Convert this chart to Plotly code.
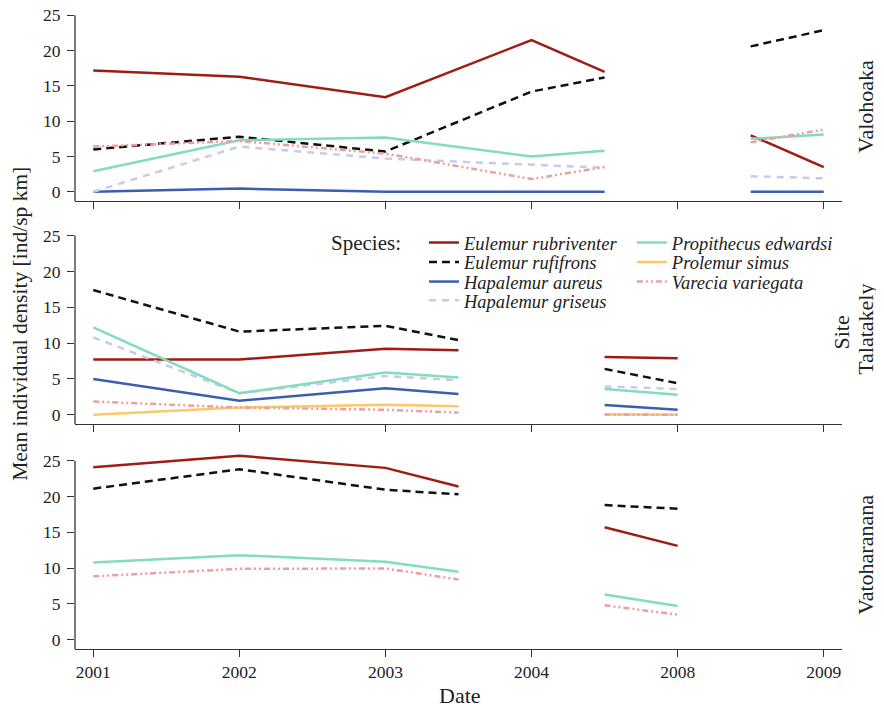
import plotly.graph_objects as go

# ---------------- data ----------------
TICK_POS = [0, 1, 2, 3, 4, 5]
TICK_LABELS = ["2001", "2002", "2003", "2004", "2008", "2009"]

SITES = ["Valohoaka", "Talatakely", "Vatoharanana"]

X_VALO = [0, 1, 2, 3, 3.5, None, 4.5, 5]
X_TALA = [0, 1, 2, 2.5, None, 3.5, 4]
X_VATO = [0, 1, 2, 2.5, None, 3.5, 4]

SPECIES = ["Eulemur rubriventer", "Eulemur rufifrons", "Hapalemur aureus",
           "Hapalemur griseus", "Propithecus edwardsi", "Prolemur simus",
           "Varecia variegata"]

# Valohoaka
valo_rubriventer = [17.2, 16.3, 13.4, 21.5, 17.0, None, 8.0, 3.5]
valo_rufifrons = [6.0, 7.8, 5.7, 14.2, 16.2, None, 20.6, 22.9]
valo_aureus = [0.0, 0.45, 0.0, 0.0, 0.0, None, 0.0, 0.0]
valo_griseus = [0.0, 6.4, 4.7, 3.9, 3.4, None, 2.2, 1.9]
valo_edwardsi = [2.9, 7.3, 7.7, 5.0, 5.8, None, 7.5, 8.1]
valo_variegata = [6.4, 7.2, 5.4, 1.8, 3.5, None, 7.0, 8.8]

# Talatakely
tala_rubriventer = [7.7, 7.7, 9.2, 9.0, None, 8.05, 7.9]
tala_rufifrons = [17.4, 11.6, 12.4, 10.4, None, 6.4, 4.4]
tala_aureus = [5.0, 1.95, 3.7, 2.9, None, 1.35, 0.7]
tala_griseus = [10.8, 3.0, 5.4, 4.8, None, 3.95, 3.6]
tala_edwardsi = [12.2, 3.0, 5.9, 5.2, None, 3.6, 2.8]
tala_simus = [0.0, 1.0, 1.4, 1.2, None, 0.05, 0.0]
tala_variegata = [1.85, 1.0, 0.7, 0.3, None, 0.05, 0.0]

# Vatoharanana
vato_rubriventer = [24.1, 25.7, 24.0, 21.4, None, 15.7, 13.1]
vato_rufifrons = [21.1, 23.8, 20.95, 20.3, None, 18.8, 18.3]
vato_edwardsi = [10.8, 11.8, 10.9, 9.5, None, 6.3, 4.7]
vato_variegata = [8.85, 9.9, 9.95, 8.4, None, 4.8, 3.5]

DATA = {
    "Valohoaka": (X_VALO, {
        "Eulemur rubriventer": valo_rubriventer,
        "Eulemur rufifrons": valo_rufifrons,
        "Hapalemur aureus": valo_aureus,
        "Hapalemur griseus": valo_griseus,
        "Propithecus edwardsi": valo_edwardsi,
        "Varecia variegata": valo_variegata,
    }),
    "Talatakely": (X_TALA, {
        "Eulemur rubriventer": tala_rubriventer,
        "Eulemur rufifrons": tala_rufifrons,
        "Hapalemur aureus": tala_aureus,
        "Hapalemur griseus": tala_griseus,
        "Propithecus edwardsi": tala_edwardsi,
        "Prolemur simus": tala_simus,
        "Varecia variegata": tala_variegata,
    }),
    "Vatoharanana": (X_VATO, {
        "Eulemur rubriventer": vato_rubriventer,
        "Eulemur rufifrons": vato_rufifrons,
        "Propithecus edwardsi": vato_edwardsi,
        "Varecia variegata": vato_variegata,
    }),
}

# ---------------- styles ----------------
STYLE = {
    "Eulemur rubriventer": dict(color="#9e1c13", dash="solid"),
    "Eulemur rufifrons": dict(color="#111111", dash="8px,5px"),
    "Hapalemur aureus": dict(color="#3b5eb0", dash="solid"),
    "Hapalemur griseus": dict(color="#c9c9f0", dash="7px,6px"),
    "Propithecus edwardsi": dict(color="#82dcbd", dash="solid"),
    "Prolemur simus": dict(color="#fcc86a", dash="solid"),
    "Varecia variegata": dict(color="#f09d9d", dash="6px,3px,2px,3px,2px,3px"),
}
# legend slot for each species: (legend id, column, row)
LEGEND_SLOT = {
    "Eulemur rubriventer": ("legend", 0, 0),
    "Eulemur rufifrons": ("legend2", 0, 1),
    "Hapalemur aureus": ("legend3", 0, 2),
    "Hapalemur griseus": ("legend4", 0, 3),
    "Propithecus edwardsi": ("legend5", 1, 0),
    "Prolemur simus": ("legend6", 1, 1),
    "Varecia variegata": ("legend7", 1, 2),
}
LEG_COL_X = [0.455, 0.726]
LEG_ROW_Y = [0.6336, 0.6030, 0.5725, 0.5432]

FONT = "Liberation Serif, Times New Roman, serif"
TXT = "#222222"
AX_COLOR = "#333333"
Y_MIN = -1.3
Y_TOPS = [26.04, 26.35, 26.35]
SPINE_TOP = 25

# domains (top, middle, bottom)
DOMAINS = [[0.6990, 1.0], [0.3509, 0.6601], [0.0, 0.3088]]

fig = go.Figure()
shown = set()
for i, site in enumerate(SITES):
    xs, series = DATA[site]
    ax = "" if i == 0 else str(i + 1)
    for sp in SPECIES:
        if sp not in series:
            continue
        st = STYLE[sp]
        fig.add_trace(go.Scatter(
            x=xs, y=series[sp], mode="lines",
            name=f"<i>{sp}</i>", legendgroup=sp,
            showlegend=sp not in shown, legend=LEGEND_SLOT[sp][0],
            line=dict(color=st["color"], dash=st["dash"], width=2.5),
            xaxis="x" + ax, yaxis="y" + ax,
        ))
        shown.add(sp)

layout = dict(
    width=876, height=702,
    margin=dict(l=67, r=42, t=0, b=61, autoexpand=False),
    paper_bgcolor="white", plot_bgcolor="white",
    font=dict(family=FONT, size=17, color=TXT),
    showlegend=True,
)
for sp, (lid, col, row) in LEGEND_SLOT.items():
    layout[lid] = dict(x=LEG_COL_X[col], y=LEG_ROW_Y[row], xanchor="left",
                       yanchor="middle", bgcolor="rgba(0,0,0,0)",
                       font=dict(size=18.5, family=FONT, color=TXT),
                       itemwidth=30)

shapes = []
for i, site in enumerate(SITES):
    ax = "" if i == 0 else str(i + 1)
    layout["xaxis" + ax] = dict(
        domain=[0, 1], anchor="y" + ax, range=[-0.125, 5.125],
        tickmode="array", tickvals=TICK_POS, ticktext=TICK_LABELS,
        showticklabels=(i == 2), ticks="outside", ticklen=7, tickwidth=1.2,
        tickcolor=AX_COLOR, showline=True, linecolor=AX_COLOR, linewidth=1.3,
        showgrid=False, zeroline=False, tickfont=dict(size=17.5),
        automargin=False,
    )
    layout["yaxis" + ax] = dict(
        domain=DOMAINS[i], anchor="x" + ax, range=[Y_MIN, Y_TOPS[i]],
        tickvals=[0, 5, 10, 15, 20, 25], ticks="outside", ticklen=7,
        tickwidth=1.2, tickcolor=AX_COLOR, showline=False, showgrid=False,
        zeroline=False, tickfont=dict(size=17.5), ticklabelstandoff=3,
        ticklabeloverflow="allow", automargin=False,
    )
    shapes.append(dict(type="line", xref=f"x{ax} domain", yref="y" + ax,
                       x0=0, x1=0, y0=Y_MIN, y1=SPINE_TOP,
                       line=dict(color=AX_COLOR, width=1.3)))
layout["shapes"] = shapes

anns = []
FACET_X = 1.0313
FACET_Y = [0.8456, 0.4979, 0.147]
for i, site in enumerate(SITES):
    anns.append(dict(text=site, xref="paper", yref="paper", x=FACET_X,
                     y=FACET_Y[i], textangle=-90, showarrow=False,
                     xanchor="center", yanchor="middle",
                     font=dict(size=22, family=FONT, color=TXT)))
anns.append(dict(text="Site", xref="paper", yref="paper", x=0.9995,
                 y=0.4932, textangle=-90, showarrow=False,
                 xanchor="center", yanchor="middle",
                 font=dict(size=22, family=FONT, color=TXT)))
anns.append(dict(text="Mean individual density [ind/sp km]", xref="paper",
                 yref="paper", x=-0.0717, y=0.5073, textangle=-90,
                 showarrow=False, xanchor="center", yanchor="middle",
                 font=dict(size=21.5, family=FONT, color=TXT)))
anns.append(dict(text="Date", xref="paper", yref="paper", x=0.502, y=-0.0728,
                 showarrow=False, xanchor="center", yanchor="middle",
                 font=dict(size=22, family=FONT, color=TXT)))
anns.append(dict(text="Species:", xref="paper", yref="paper", x=0.3308,
                 y=0.6336, showarrow=False, xanchor="left", yanchor="middle",
                 font=dict(size=21, family=FONT, color=TXT)))
layout["annotations"] = anns

fig.update_layout(**layout)
fig.write_html("out.html")
